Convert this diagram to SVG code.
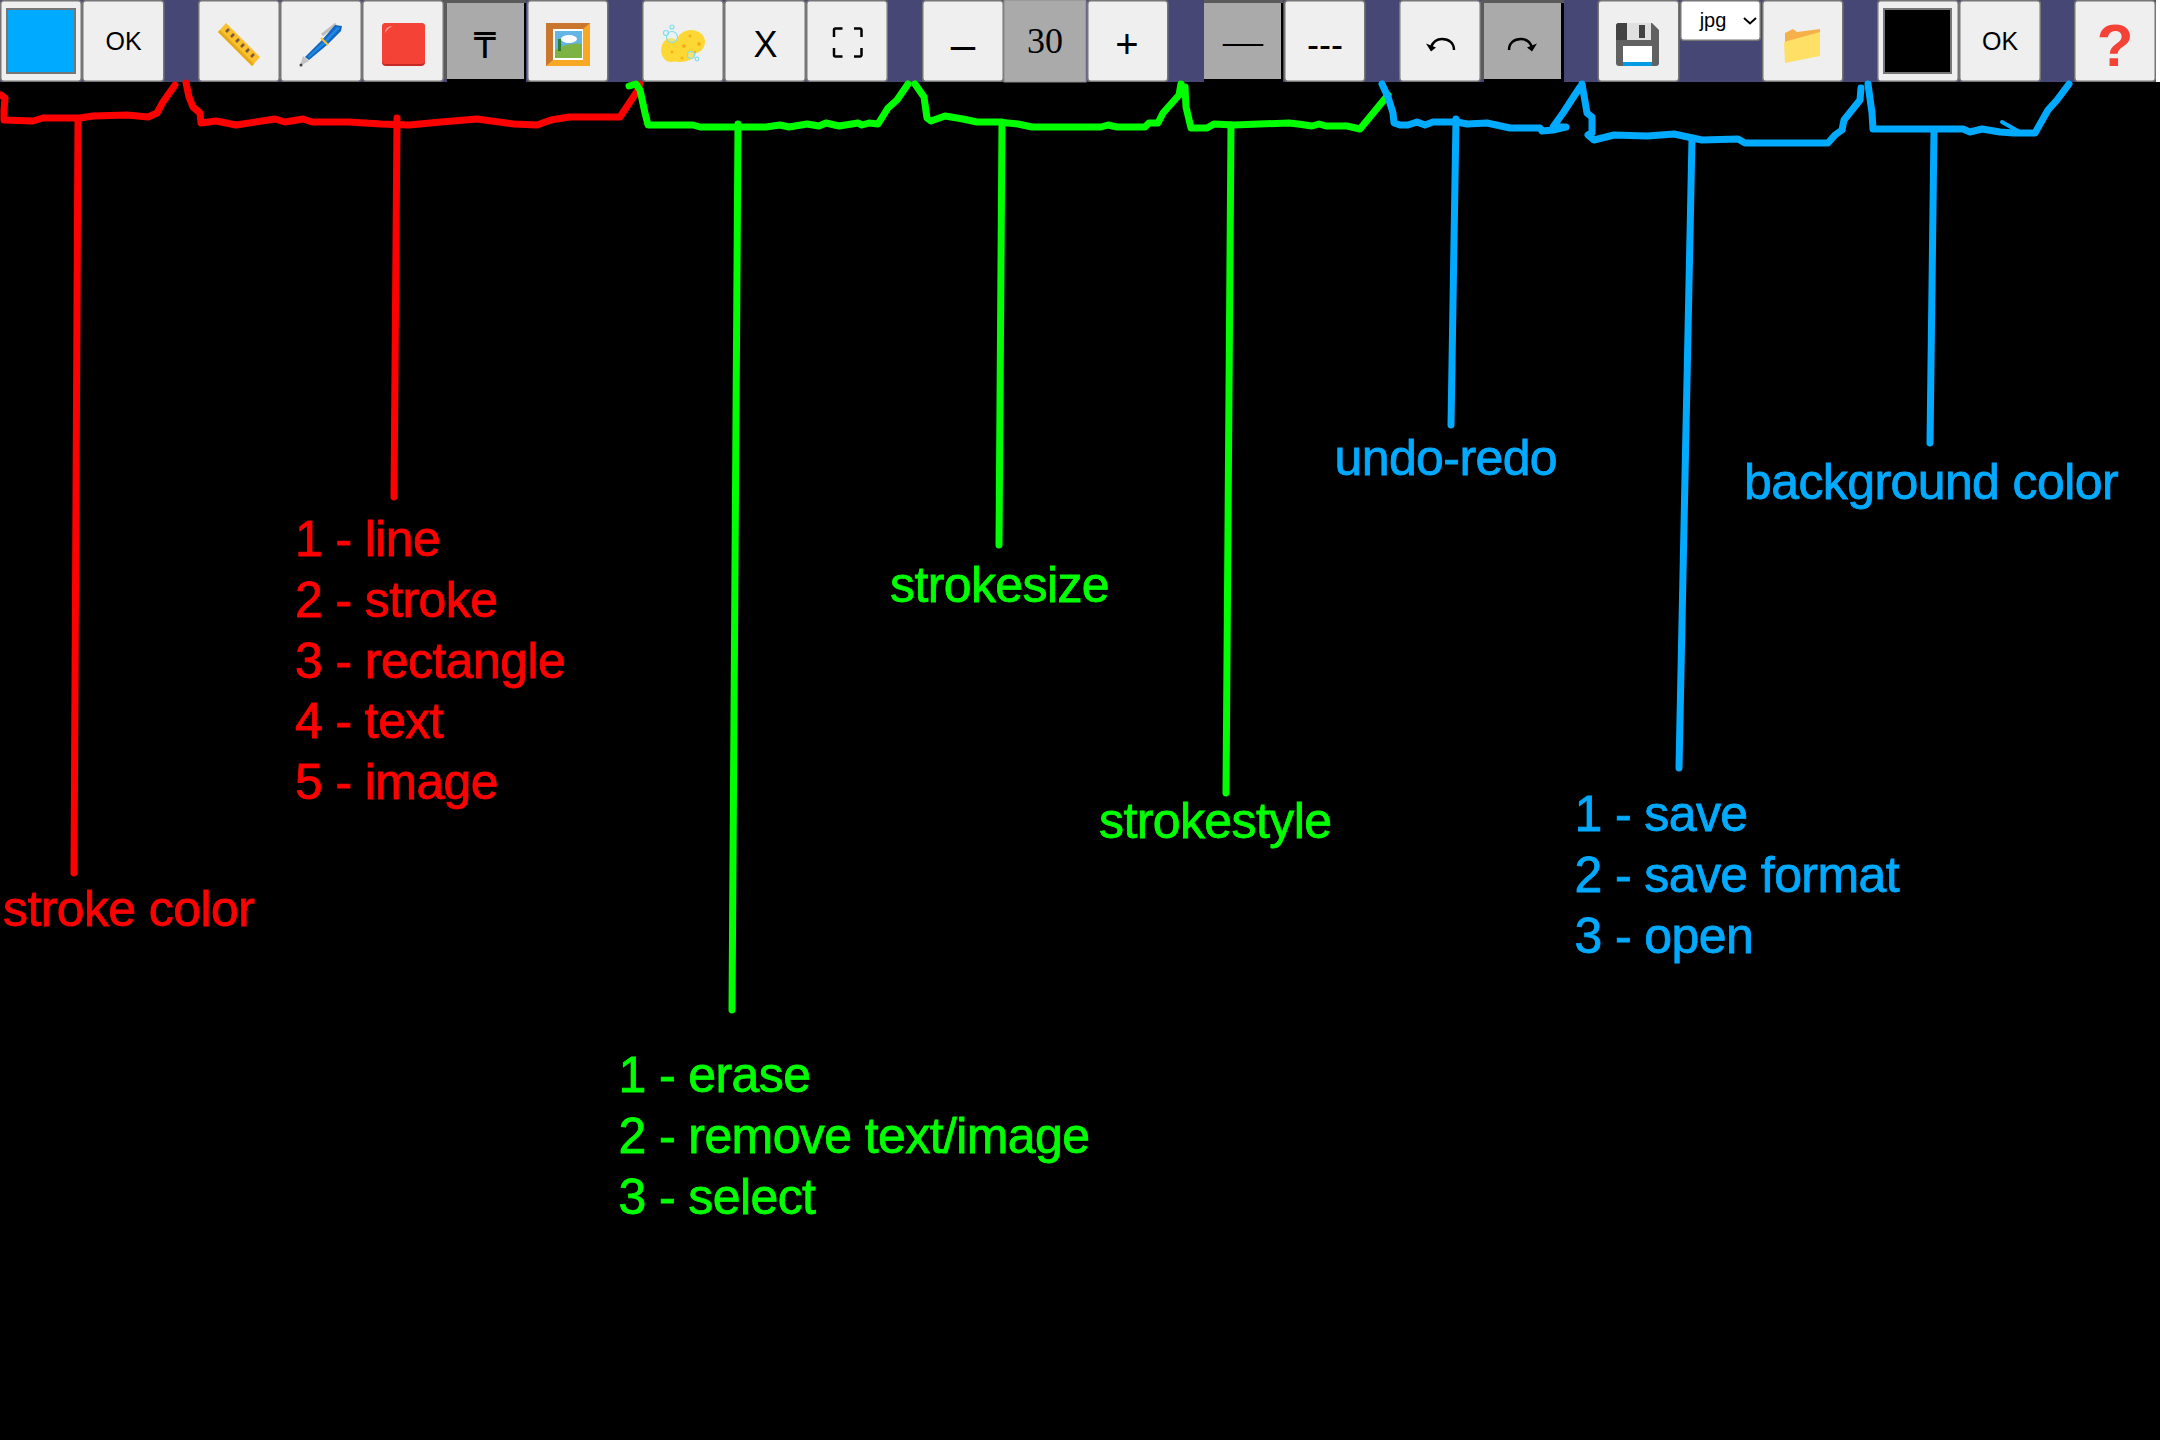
<svg xmlns="http://www.w3.org/2000/svg" width="2160" height="1440" viewBox="0 0 2160 1440">
<style>
.btn{fill:#efefef;stroke:#767676;stroke-width:1.5}
.sw{stroke:#767676;stroke-width:2}
.on{fill:#aaa}
.dk{fill:#5a5a5a}
.bk{fill:#000}
.t{font-family:"Liberation Sans",Arial,sans-serif;fill:#000;text-anchor:middle}
.s{font-family:"Liberation Serif","Times New Roman",serif;fill:#000;text-anchor:middle}
.d{font-family:"DejaVu Sans",sans-serif;fill:#000;text-anchor:middle}
.lab{font-family:"Liberation Sans",Arial,sans-serif;font-size:50px;letter-spacing:-.6px;stroke-width:.8px}
.r{fill:#f00;stroke:#f00}.g{fill:#0f0;stroke:#0f0}.b{fill:#0af;stroke:#0af}
.c{fill:none;stroke-width:7;stroke-linejoin:round;stroke-linecap:round}
.cr{stroke:#f00}.cg{stroke:#0f0}.cb{stroke:#0af}
.ic{fill:none;stroke:#000;stroke-width:2.500}
</style>
<rect width="2160" height="1440" fill="#000"/>
<rect id="toolbar" width="2156" height="82" fill="#474775"/>
<rect x="2156" width="4" height="82" fill="#fff"/>

<g id="connectors">
<g class="c cr">
<polyline points="1,95 5,98 4,110 4,120 33,121 43,118 80,118 93,116 127,115 148,117 157,113 163,102 175,85"/>
<polyline points="78,120 74,873"/>
<polyline points="186,83 189,97 193,107 200,113 201,123 216,121 236,125 275,119 285,122 303,119 312,122 349,122 381,124 409,125 441,122 477,119 514,124 537,125 551,120 569,117 588,117 620,117 638,90 640,84"/>
<polyline points="397,118 394,497"/>
</g>
<g class="c cg">
<polyline points="629,86 636,84 640,90 645,113 648,125 693,125 700,127 766,127 780,125 789,127 807,124 819,126 826,123 839,126 858,123 862,125 869,123 878,124 888,108 897,100 908,84"/>
<polyline points="738,124 732,1010"/>
<polyline points="915,84 924,97 927,118 931,121 945,116 963,119 977,122 998,122 1018,124 1032,127 1101,127 1108,125 1117,127 1145,127 1149,123 1158,123 1163,113 1179,95 1181,84"/>
<polyline points="1002,122 999,545"/>
<polyline points="1185,87 1186,107 1191,128 1207,128 1214,124 1234,125 1289,123 1298,124 1312,126 1319,124 1326,126 1347,126 1360,129 1388,95"/>
<polyline points="1231,125 1226,793"/>
</g>
<g class="c cb">
<polyline points="1382,84 1388,97 1393,113 1394,123 1400,125 1408,125 1417,122 1425,125 1433,122 1442,122 1457,122 1467,124 1487,123 1510,128 1540,128 1542,131 1553,130 1566,127 1553,127 1563,113 1580,87"/>
<polyline points="1456,119 1451,425"/>
<polyline points="1582,84 1587,113 1592,117 1592,133 1588,135 1594,140 1614,135 1647,136 1674,134 1702,140 1738,139 1745,143 1828,143 1835,135 1842,130 1844,120 1860,100 1861,88"/>
<polyline points="1692,138 1679,768"/>
<polyline points="1868,84 1872,113 1873,129 1963,129 1970,132 1982,129 2000,132 2014,133 2035,133 2048,110 2057,100 2069,84"/>
<polyline points="2002,122 2018,131" stroke-width="4"/>
<polyline points="1934,130 1930,443"/>
</g>
</g>

<g id="btn-stroke-color"><rect class="btn" x=".75" y=".75" width="80.5" height="80.5" rx="3"/><rect class="sw" x="7" y="9" width="68" height="64" fill="#0af"/></g>
<g id="btn-stroke-ok"><rect class="btn" x="82.75" y=".75" width="81" height="80.5" rx="3"/><text class="t" x="123.500" y="50" font-size="25">OK</text></g>

<g id="btn-line"><rect class="btn" x="198.750" y=".75" width="80.5" height="80.5" rx="3"/>
<polygon points="226,23 260,57 252,66 218,32" fill="#fbc02d"/>
<polygon points="218,32 252,66 254,64 220,30" fill="#e8a917"/>
<path d="M229,29l-3,3M234,34l-3,3M239,39l-3,3M244,44l-3,3M249,49l-3,3M254,54l-3,3" stroke="#7d5a3c" stroke-width="2.500" fill="none"/></g>
<g id="btn-stroke"><rect class="btn" x="280.750" y=".75" width="80.5" height="80.5" rx="3"/>
<line x1="322" y1="35" x2="336" y2="24" stroke="#bdbdbd" stroke-width="3"/>
<polygon points="305,57 322,40 335,25 342,26 341,31 327,45 309,60" fill="#1565c0"/>
<polygon points="308,56 324,41 337,27 340,28 326,43 309,58" fill="#1e88e5"/>
<line x1="321" y1="38" x2="328" y2="45" stroke="#fbc02d" stroke-width="2"/>
<polygon points="300,66 303,56 309,61" fill="#c4c4c4"/><circle cx="301" cy="65" r="1.500" fill="#444"/></g>
<g id="btn-rect"><rect class="btn" x="362.750" y=".75" width="80.5" height="80.5" rx="3"/>
<rect x="382" y="23" width="43" height="43" rx="4" fill="#c62828"/><rect x="382" y="23" width="43" height="41" rx="4" fill="#f44336"/>
<path d="M385,33q0,-7 8,-7q-5,2 -8,7z" fill="#ef9a9a"/></g>
<g id="btn-text"><rect class="dk" x="444" width="82" height="79"/><rect class="bk" x="447" y="79" width="79" height="3"/><rect class="bk" x="524" y="3" width="2" height="79"/><rect class="on" x="447" y="3" width="77" height="76"/>
<text class="d" x="485" y="58" font-size="35">₸</text></g>
<g id="btn-image"><rect class="btn" x="527.750" y=".75" width="80" height="80.5" rx="3"/>
<rect x="546" y="23" width="44" height="43" fill="#f9a825"/><polygon points="546,23 590,23 583,29 553,29 553,60 546,66" fill="#c9772e"/>
<rect x="553" y="29" width="30" height="31" fill="#fff"/><rect x="555" y="31" width="27" height="27" fill="#62b5e5"/>
<path d="M555,50q14,-8 27,-6v14h-27z" fill="#7cb342"/><path d="M562,44q-2,2 -1,7h-3q0,-4 4,-7z" fill="#33691e"/><rect x="558" y="39" width="3" height="11" fill="#2e7d32"/>
<ellipse cx="569" cy="39" rx="8" ry="4" fill="#fff"/></g>
<g id="btn-erase"><rect class="btn" x="642.750" y=".75" width="80.5" height="80.5" rx="3"/>
<ellipse cx="671" cy="50" rx="10" ry="12" fill="#fdd835"/><ellipse cx="691" cy="42" rx="14" ry="12" fill="#fdd835"/><ellipse cx="680" cy="52" rx="16" ry="10" fill="#fdd835"/>
<g fill="#f2b01e"><circle cx="690" cy="36" r="1.500"/><circle cx="699" cy="44" r="2"/><circle cx="684" cy="46" r="2"/><circle cx="672" cy="52" r="1.500"/><circle cx="682" cy="58" r="1.500"/><circle cx="695" cy="52" r="1.200"/></g>
<g fill="#e0f7fa" fill-opacity=".35" stroke="#80deea" stroke-width="1.200"><circle cx="672" cy="37" r="5.500"/><circle cx="666" cy="33" r="2.500"/><circle cx="672" cy="27" r="2"/><circle cx="691" cy="55" r="3.500"/><circle cx="697" cy="59" r="1.800"/></g></g>
<g id="btn-remove"><rect class="btn" x="724.750" y=".75" width="80.5" height="80.5" rx="3"/><text class="t" x="765.500" y="57" font-size="36">X</text></g>
<g id="btn-select"><rect class="btn" x="806.750" y=".75" width="80.5" height="80.5" rx="3"/>
<path class="ic" d="M834,37v-7a1.500,1.500 0 0 1 1.500,-1.500h7M854,28.500h6a1.500,1.500 0 0 1 1.500,1.500v7M861.500,48v7a1.500,1.500 0 0 1 -1.500,1.500h-6M842.500,56.500h-7a1.500,1.500 0 0 1 -1.500,-1.500v-7"/></g>

<g id="btn-size-minus"><rect class="btn" x="922.750" y=".75" width="80.5" height="80.5" rx="3"/><text class="t" x="963" y="60" font-size="44">–</text></g>
<g id="size-value"><rect x="1004" width="82" height="82" fill="#aaa" stroke="#8a8a8a" stroke-width="1"/><text class="s" x="1045" y="53" font-size="36">30</text></g>
<g id="btn-size-plus"><rect class="btn" x="1087.750" y=".75" width="80" height="80.5" rx="3"/><text class="t" x="1127" y="58" font-size="40">+</text></g>

<g id="btn-solid"><rect class="dk" x="1204" width="79" height="79"/><rect class="bk" x="1204" y="79" width="79" height="3"/><rect class="bk" x="1281" y="3" width="2" height="79"/><rect class="on" x="1204" y="3" width="77" height="76"/>
<text class="s" x="1243" y="54" font-size="40">—</text></g>
<g id="btn-dashed"><rect class="btn" x="1284.750" y=".75" width="80" height="80.5" rx="3"/><text class="t" x="1325" y="57" font-size="36">---</text></g>

<g id="btn-undo"><rect class="btn" x="1399.750" y=".75" width="80.5" height="80.5" rx="3"/>
<path class="ic" d="M1454,50c0,-7 -5,-11 -12,-11c-5,0 -9,3 -11,8"/><path d="M1426,43.500l5,8 5,-4z" fill="#000"/></g>
<g id="btn-redo"><rect class="dk" x="1481" width="83" height="79"/><rect class="bk" x="1484" y="79" width="80" height="3"/><rect class="bk" x="1561" y="3" width="3" height="79"/><rect class="on" x="1484" y="3" width="77" height="76"/>
<path class="ic" d="M1509,50c0,-7 5,-11 12,-11c5,0 9,3 11,8"/><path d="M1537,43.500l-5,8 -5,-4z" fill="#000"/></g>

<g id="btn-save"><rect class="btn" x="1598.250" y=".75" width="80.5" height="80.5" rx="3"/>
<path d="M1619,23h33l7,7v33a3,3 0 0 1 -3,3h-37a3,3 0 0 1 -3,-3v-37a3,3 0 0 1 3,-3z" fill="#616161"/>
<path d="M1619,23h8v17h-11v-14a3,3 0 0 1 3,-3z" fill="#424242"/>
<rect x="1627" y="23" width="24" height="17" fill="#e0e0e0"/><rect x="1639" y="25" width="6" height="13" fill="#424242"/>
<rect x="1623" y="46" width="29" height="20" fill="#fff"/><rect x="1623" y="62" width="29" height="4" fill="#039be5"/></g>
<g id="select-format"><rect x="1680.750" y=".75" width="79.500" height="39.500" rx="3" fill="#fff" stroke="#767676" stroke-width="1.500"/>
<text class="t" x="1713" y="27" font-size="20">jpg</text><path d="M1744,18l6,5.500 6,-5.500" fill="none" stroke="#000" stroke-width="2"/></g>
<g id="btn-open"><rect class="btn" x="1762.750" y=".75" width="80" height="80.5" rx="3"/>
<polygon points="1785,33 1793,29 1797,32 1820,29 1820,40 1785,50" fill="#f6b04a"/>
<polygon points="1784,42 1820,32 1820,56 1785,63" fill="#ffe066"/></g>

<g id="btn-bg-color"><rect class="btn" x="1877.750" y=".75" width="80.5" height="80.5" rx="3"/><rect class="sw" x="1884" y="9" width="67" height="64" fill="#000"/></g>
<g id="btn-bg-ok"><rect class="btn" x="1959.750" y=".75" width="80.5" height="80.5" rx="3"/><text class="t" x="2000" y="50" font-size="25">OK</text></g>
<g id="btn-help"><rect class="btn" x="2074.750" y=".75" width="80.5" height="80.5" rx="3"/><text x="2115" y="66" text-anchor="middle" font-family="Liberation Sans,Arial,sans-serif" font-weight="700" font-size="60" fill="#f44336">?</text></g>

<g id="label-stroke-color"><text class="lab r" x="3" y="925.500">stroke color</text></g>
<g id="label-draw-modes"><text class="lab r" x="295" y="556">1 - line</text><text class="lab r" x="295" y="617">2 - stroke</text><text class="lab r" x="295" y="678">3 - rectangle</text><text class="lab r" x="295" y="738">4 - text</text><text class="lab r" x="295" y="799">5 - image</text></g>
<g id="label-erase-modes"><text class="lab g" x="618.500" y="1092">1 - erase</text><text class="lab g" x="618.500" y="1153">2 - remove text/image</text><text class="lab g" x="618.500" y="1213.500">3 - select</text></g>
<g id="label-strokesize"><text class="lab g" x="890" y="601.500">strokesize</text></g>
<g id="label-strokestyle"><text class="lab g" x="1099" y="838">strokestyle</text></g>
<g id="label-undo-redo"><text class="lab b" x="1334.500" y="475">undo-redo</text></g>
<g id="label-save"><text class="lab b" x="1574.500" y="831">1 - save</text><text class="lab b" x="1574.500" y="892">2 - save format</text><text class="lab b" x="1574.500" y="952.500">3 - open</text></g>
<g id="label-background"><text class="lab b" x="1744" y="499">background color</text></g>
</svg>
